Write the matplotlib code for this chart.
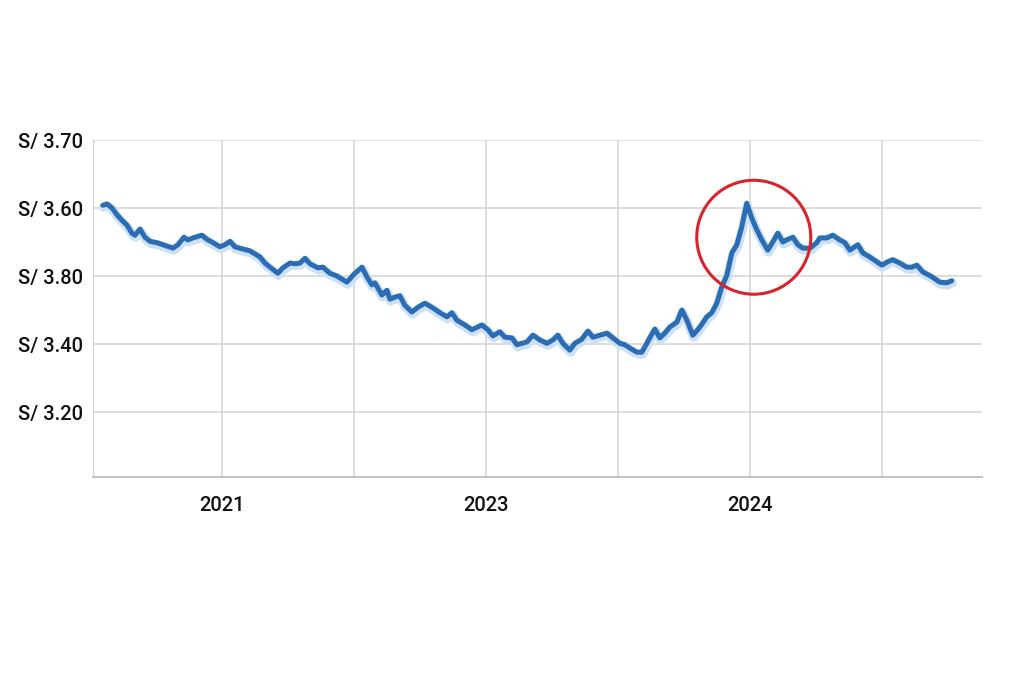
import matplotlib
matplotlib.use("Agg")
import matplotlib.pyplot as plt
import matplotlib.patheffects as pe
from matplotlib.patches import Ellipse

# x in grid units (one vertical gridline per unit), y in soles
t = [-0.902, -0.871, -0.833, -0.795, -0.758, -0.720, -0.682, -0.659, -0.621, -0.583,
     -0.545, -0.492, -0.447, -0.371, -0.333, -0.288, -0.258, -0.220, -0.152, -0.114,
     -0.076, -0.015, 0.023, 0.061, 0.098, 0.152, 0.212, 0.288, 0.326, 0.364,
     0.424, 0.462, 0.515, 0.553, 0.591, 0.629, 0.667, 0.727, 0.765, 0.818,
     0.871, 0.947, 1.008, 1.061, 1.098, 1.136, 1.159, 1.212, 1.250, 1.273,
     1.311, 1.348, 1.386, 1.439, 1.485, 1.538, 1.591, 1.652, 1.705, 1.742,
     1.780, 1.841, 1.894, 1.970, 2.015, 2.053, 2.106, 2.144, 2.197, 2.235,
     2.273, 2.311, 2.356, 2.409, 2.462, 2.508, 2.545, 2.583, 2.636, 2.674,
     2.727, 2.773, 2.811, 2.864, 2.917, 2.962, 3.015, 3.053, 3.091, 3.144,
     3.182, 3.220, 3.242, 3.280, 3.318, 3.356, 3.394, 3.447, 3.485, 3.523,
     3.568, 3.606, 3.644, 3.674, 3.712, 3.750, 3.788, 3.826, 3.864, 3.902,
     3.939, 3.977, 4.015, 4.053, 4.091, 4.136, 4.174, 4.212, 4.250, 4.288,
     4.326, 4.364, 4.402, 4.455, 4.508, 4.530, 4.583, 4.629, 4.682, 4.720,
     4.758, 4.795, 4.818, 4.856, 4.909, 4.962, 5.000, 5.045, 5.083, 5.136,
     5.189, 5.227, 5.265, 5.311, 5.379, 5.439, 5.492, 5.530]
rate = [3.604, 3.606, 3.600, 3.590, 3.582, 3.575, 3.563, 3.560, 3.569, 3.557,
        3.551, 3.549, 3.546, 3.541, 3.546, 3.557, 3.553, 3.556, 3.560, 3.554,
        3.550, 3.543, 3.546, 3.551, 3.543, 3.540, 3.537, 3.528, 3.519, 3.513,
        3.504, 3.512, 3.519, 3.518, 3.519, 3.526, 3.518, 3.512, 3.513, 3.504,
        3.500, 3.491, 3.504, 3.513, 3.499, 3.487, 3.490, 3.472, 3.479, 3.466,
        3.469, 3.471, 3.457, 3.447, 3.454, 3.460, 3.454, 3.446, 3.440, 3.446,
        3.435, 3.428, 3.421, 3.428, 3.421, 3.412, 3.418, 3.410, 3.409, 3.399,
        3.401, 3.403, 3.413, 3.406, 3.401, 3.406, 3.413, 3.401, 3.391, 3.401,
        3.407, 3.419, 3.410, 3.413, 3.416, 3.409, 3.401, 3.399, 3.394, 3.388,
        3.388, 3.401, 3.409, 3.422, 3.409, 3.416, 3.425, 3.432, 3.450, 3.435,
        3.413, 3.421, 3.431, 3.440, 3.446, 3.460, 3.484, 3.501, 3.534, 3.546,
        3.572, 3.607, 3.585, 3.568, 3.553, 3.538, 3.550, 3.563, 3.550, 3.554,
        3.557, 3.546, 3.541, 3.541, 3.549, 3.556, 3.556, 3.560, 3.553, 3.549,
        3.538, 3.543, 3.546, 3.534, 3.528, 3.521, 3.516, 3.521, 3.524, 3.519,
        3.513, 3.513, 3.516, 3.506, 3.499, 3.491, 3.490, 3.493]

x_ticks = [0, 1, 2, 3, 4, 5]
x_labels = ["2021", "", "2023", "", "2024", ""]
y_ticks = [3.70, 3.60, 3.50, 3.40, 3.30]
y_labels = ["S/ 3.70", "S/ 3.60", "S/ 3.80", "S/ 3.40", "S/ 3.20"]

plt.rcParams['font.family'] = ['Roboto', 'DejaVu Sans']
plt.rcParams['font.weight'] = 'medium'

fig = plt.figure(figsize=(10.24, 6.83), dpi=100)
ax = fig.add_axes([0.0908, 0.3016, 0.868, 0.4934])

ax.plot(t, rate, color='#2a6db5', lw=3.6, solid_joinstyle='round', solid_capstyle='round',
        path_effects=[pe.Stroke(linewidth=6.5, foreground='#cde0f4', offset=(0.5, -1.5)),
                      pe.Normal()], zorder=3)

# highlight around the peak
ax.add_patch(Ellipse((4.03, 3.557), 0.864, 0.1676, fill=False,
                     edgecolor='#d8232a', lw=2.2, zorder=4))

ax.set_xlim(-0.977, 5.758)
ax.set_ylim(3.2044, 3.70)
ax.set_xticks(x_ticks)
ax.set_xticklabels(x_labels)
ax.set_yticks(y_ticks)
ax.set_yticklabels(y_labels)
ax.tick_params(axis='both', length=0, labelsize=14.5, colors='#111111')
ax.tick_params(axis='y', pad=7)
ax.tick_params(axis='x', pad=14)
ax.grid(True, color='#d3d3d3', lw=1.1)
ax.set_axisbelow(True)
for s in ['top', 'right']:
    ax.spines[s].set_visible(False)
ax.spines['left'].set_color('#d3d3d3')
ax.spines['bottom'].set_color('#c4c4c4')
ax.spines['bottom'].set_linewidth(1.5)

fig.savefig('out.png', dpi=100)
